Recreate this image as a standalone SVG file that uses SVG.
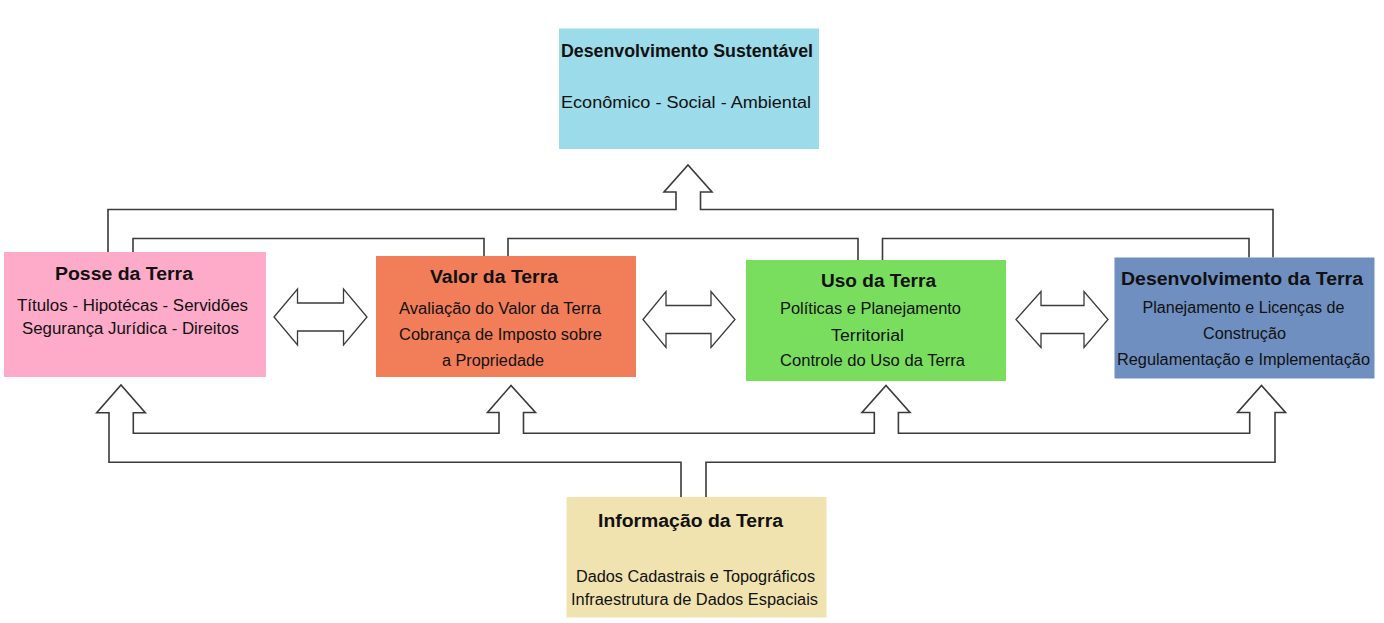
<svg xmlns="http://www.w3.org/2000/svg" width="1384" height="623" viewBox="0 0 1384 623">
<style>
.t{font-family:"Liberation Sans",Arial,sans-serif;font-weight:bold;font-size:18px;fill:#111}
.s{font-family:"Liberation Sans",Arial,sans-serif;font-size:16px;fill:#111}
.c{fill:none;stroke:#3a3a3a;stroke-width:1.6}
.d{fill:#fff;stroke:#3a3a3a;stroke-width:1.3;stroke-linejoin:miter}
</style>
<rect width="1384" height="623" fill="#fff"/>
<g id="connectors">
<path class="c" d="M108,252 V209.5 H676 V192 H664 L688,165 L712,192 H700.5 V209.5 H1273 V257.5"/>
<path class="c" d="M133,252 V238.5 H484 V256"/>
<path class="c" d="M508,256 V238.5 H858 V260"/>
<path class="c" d="M882.5,260 V238.5 H1249 V257.5"/>
<path class="c" d="M681,497 V462.3 H109 V412.7 H96.7 L121,385 L145.3,412.7 H133.3 V433.3 H499 V412.5 H487.5 L511,385.5 L535.5,412.5 H523.5 V433.3 H874.3 V412.5 H862 L886,385.5 L910,412.5 H898.4 V433.3 H1249.7 V412.5 H1237.5 L1261.5,385.5 L1285.5,412.5 H1275 V462.3 H706 V497"/>
<path class="d" d="M274,317 L297.5,289 V303 H343.5 V289 L367,317 L343.5,345 V331 H297.5 V345 Z"/>
<path class="d" d="M643,319.5 L666,291.5 V305.5 H711 V291.5 L735,319.5 L711,347.5 V333.5 H666 V347.5 Z"/>
<path class="d" d="M1016,319.5 L1041,291.5 V305.5 H1084 V291.5 L1108,319.5 L1084,347.5 V333.5 H1041 V347.5 Z"/>
</g>
<g id="sustentavel">
<rect x="559" y="28.5" width="260" height="120.5" fill="#9cdcea"/>
<text class="t" x="561" y="56.5" font-size="19" textLength="252" lengthAdjust="spacingAndGlyphs">Desenvolvimento Sustentável</text>
<text class="s" x="561" y="108" font-size="18" textLength="250" lengthAdjust="spacingAndGlyphs">Econômico - Social - Ambiental</text>
</g>
<g id="posse">
<rect x="4" y="252" width="262" height="125" fill="#feabc9"/>
<text class="t" x="55" y="280" textLength="138" lengthAdjust="spacingAndGlyphs">Posse da Terra</text>
<text class="s" x="17" y="310.5" textLength="231" lengthAdjust="spacingAndGlyphs">Títulos - Hipotécas - Servidões</text>
<text class="s" x="22" y="334" textLength="217" lengthAdjust="spacingAndGlyphs">Segurança Jurídica - Direitos</text>
</g>
<g id="valor">
<rect x="376" y="256" width="260" height="121" fill="#f27e59"/>
<text class="t" x="430" y="283.3" textLength="128" lengthAdjust="spacingAndGlyphs">Valor da Terra</text>
<text class="s" x="399" y="314.3" textLength="202" lengthAdjust="spacingAndGlyphs">Avaliação do Valor da Terra</text>
<text class="s" x="399" y="340" textLength="203" lengthAdjust="spacingAndGlyphs">Cobrança de Imposto sobre</text>
<text class="s" x="442" y="365.7" textLength="102" lengthAdjust="spacingAndGlyphs">a Propriedade</text>
</g>
<g id="uso">
<rect x="746" y="260" width="260" height="121" fill="#79de5e"/>
<text class="t" x="821" y="286.7" textLength="115" lengthAdjust="spacingAndGlyphs">Uso da Terra</text>
<text class="s" x="780" y="314" textLength="181" lengthAdjust="spacingAndGlyphs">Políticas e Planejamento</text>
<text class="s" x="831" y="340.5" textLength="73" lengthAdjust="spacingAndGlyphs">Territorial</text>
<text class="s" x="780" y="366" textLength="185" lengthAdjust="spacingAndGlyphs">Controle do Uso da Terra</text>
</g>
<g id="desenvolvimento">
<rect x="1114.5" y="257.5" width="260" height="121" fill="#6e8fc0"/>
<text class="t" x="1121" y="285" textLength="242" lengthAdjust="spacingAndGlyphs">Desenvolvimento da Terra</text>
<text class="s" x="1142.5" y="313.3" textLength="202" lengthAdjust="spacingAndGlyphs">Planejamento e Licenças de</text>
<text class="s" x="1203" y="338.5" textLength="83" lengthAdjust="spacingAndGlyphs">Construção</text>
<text class="s" x="1117" y="365" textLength="253" lengthAdjust="spacingAndGlyphs">Regulamentação e Implementação</text>
</g>
<g id="informacao">
<rect x="566.5" y="497" width="260" height="120.5" fill="#f0e3b0"/>
<text class="t" x="598" y="526.7" textLength="185" lengthAdjust="spacingAndGlyphs">Informação da Terra</text>
<text class="s" x="576" y="581.7" textLength="239" lengthAdjust="spacingAndGlyphs">Dados Cadastrais e Topográficos</text>
<text class="s" x="571" y="605" textLength="247" lengthAdjust="spacingAndGlyphs">Infraestrutura de Dados Espaciais</text>
</g>
</svg>
